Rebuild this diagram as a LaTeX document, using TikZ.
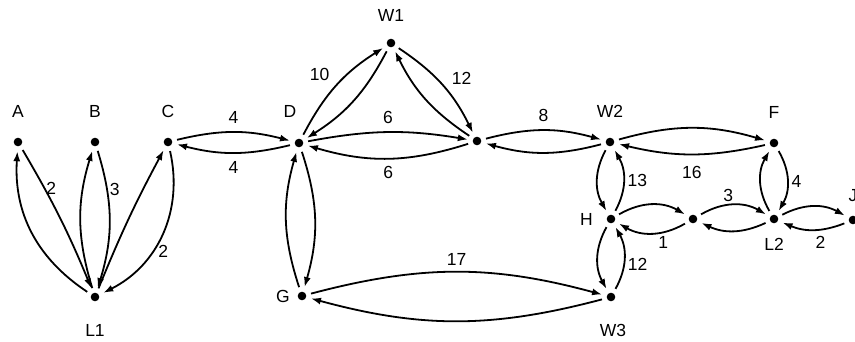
\documentclass[tikz,border=0pt]{standalone}
\usepackage{fontspec}
\setmainfont{Liberation Sans}
\usetikzlibrary{arrows.meta}

\begin{document}
\begin{tikzpicture}[x=1pt, y=1pt, line width=1.8pt, >={Latex[length=10pt,width=7pt]},
        font=\fontsize{17.5}{21}\selectfont,
        main/.style = {circle, fill, inner sep=0pt, minimum size=8.6pt, outer sep=5pt},
        every label/.style = {inner sep=0pt}]
            \useasboundingbox (0,0) rectangle (855,341);

            \node[main, label={[label distance=14.5pt]above:A}] (A) at (18,199) {};
            \node[main, label={[label distance=14.5pt]above:B}] (B) at (95,199) {};
            \node[main, label={[label distance=14.5pt]above:C}] (C) at (168,199) {};
            \node[main, label={[label distance=15pt, xshift=-9pt]above:D}] (D) at (299,198) {};
            \node[main, label={[label distance=11pt]above:W1}] (W1) at (391,298) {};
            \node[main] (P1) at (477,200) {};
            \node[main, label={[label distance=14.5pt]above:W2}] (W2) at (610,199) {};
            \node[main, label={[label distance=14.5pt]above:F}] (F) at (774,198) {};
            \node[main, label={[label distance=8pt]left:H}] (H) at (611,122) {};
            \node[main] (P2) at (693,122) {};
            \node[main, label={[label distance=9pt]below:L2}] (L2) at (774,122) {};
            \node[main, label={[label distance=8pt]above:J}] (J) at (853,121) {};
            \node[main, label={[label distance=17pt]below:L1}] (L1) at (95,44) {};
            \node[main, label={[label distance=2pt]left:G}] (G) at (302,45) {};
            \node[main, label={[label distance=17pt, xshift=2pt]below:W3}] (W3) at (611,44) {};

            \draw[->] (A) to[bend left=4] node[pos=.27, right, inner sep=1pt] {2} (L1);
            \draw[->] (L1) to[bend left=30] (A);
            \draw[->] (B) to[bend left=17] node[pos=.27, right, inner sep=2pt] {3} (L1);
            \draw[->] (L1) to[bend left=17] (B);
            \draw[->] (L1) to[bend left=3] (C);
            \draw[->] (C) to[bend left=38] node[pos=.62, right, inner sep=5pt] {2} (L1);

            \draw[->] (C) to[bend left=14] node[above=4pt] {4} (D);
            \draw[->] (D) to[bend left=14] node[below=4pt] {4} (C);
            \draw[->] (D) to[bend left=15] node[above left, xshift=-3pt] {10} (W1);
            \draw[->] (W1) to[bend left=15] (D);
            \draw[->] (W1) to[bend left=15] node[pos=.55, above right, xshift=2pt] {12} (P1);
            \draw[->] (P1) to[bend left=15] (W1);
            \draw[->] (D) to[bend left=10] node[above=4pt] {6} (P1);
            \draw[->] (P1) to[bend left=17] node[below=4pt] {6} (D);
            \draw[->] (P1) to[bend left=15] node[above=4pt] {8} (W2);
            \draw[->] (W2) to[bend left=15] (P1);
            \draw[->] (W2) to[bend left=16] (F);
            \draw[->] (F) to[bend left=13] node[below=8pt] {16} (W2);

            \draw[->] (W2) to[bend right=29] (H);
            \draw[->] (H) to[bend right=29] node[right, inner sep=3pt] {13} (W2);
            \draw[->] (H) to[bend right=29] (W3);
            \draw[->] (W3) to[bend right=29] node[pos=.4, right, inner sep=3pt] {12} (H);
            \draw[->] (F) to[bend left=30] node[right] {4} (L2);
            \draw[->] (L2) to[bend left=30] (F);
            \draw[->] (H) to[bend left=30] (P2);
            \draw[->] (P2) to[bend left=30] node[pos=.33, below] {1} (H);
            \draw[->] (P2) to[bend left=30] node[pos=.42, above, inner sep=3pt] {3} (L2);
            \draw[->] (L2) to[bend left=25] (P2);
            \draw[->] (L2) to[bend left=28] (J);
            \draw[->] (J) to[bend left=22] node[pos=.38, below=3pt] {2} (L2);

            \draw[->] (D) to[bend left=17] (G);
            \draw[->] (G) to[bend left=17] (D);
            \draw[->] (G) to[bend left=15] node[above=2pt] {17} (W3);
            \draw[->] (W3) to[bend left=15] (G);
        \end{tikzpicture}
\end{document}
